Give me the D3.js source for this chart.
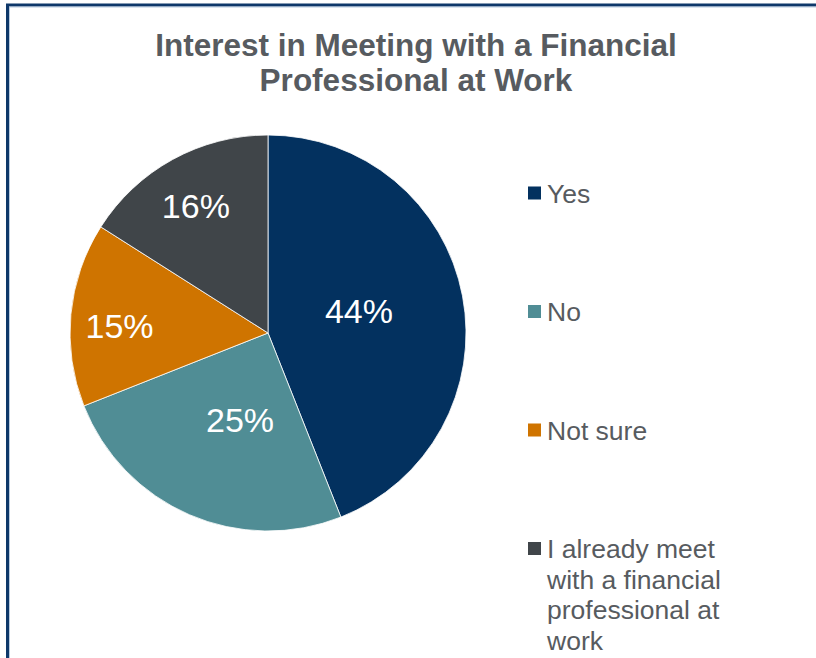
<!DOCTYPE html>
<html>
<head>
<meta charset="utf-8">
<script src="https://cdn.jsdelivr.net/npm/d3@7/dist/d3.min.js"></script>
<style>
  html, body { margin: 0; padding: 0; background: #fff; }
  svg { display: block; }
</style>
</head>
<body>
<svg id="chart" width="816" height="658"></svg>
<script>
// Survey answers, in clockwise order starting at 12 o'clock
const categories = ["Yes", "No", "Not sure", "I already meet with a financial professional at work"];
const values = [44, 25, 15, 16];
const colors = ["#03315f", "#508d95", "#cf7400", "#404549"];
const legendLines = [["Yes"], ["No"], ["Not sure"], ["I already meet", "with a financial", "professional at", "work"]];
const titleLines = ["Interest in Meeting with a Financial", "Professional at Work"];

const svg = d3.select("#chart");
const W = 816, H = 658;

// Frame around the chart area (runs past the right and bottom edges)
svg.append("rect")
  .attr("x", 7.5).attr("y", 5).attr("width", W + 20).attr("height", H + 20)
  .attr("fill", "#fff").attr("stroke", "#0e386a").attr("stroke-width", 3);
svg.append("rect")
  .attr("x", 9.5).attr("y", 7).attr("width", W + 20).attr("height", H + 20)
  .attr("fill", "none").attr("stroke", "#a9bfd8").attr("stroke-width", 0.8);

// Title
const title = svg.append("text")
  .attr("text-anchor", "middle")
  .attr("font-family", "Liberation Sans, Arial, sans-serif")
  .attr("font-weight", "bold")
  .attr("font-size", 31.5)
  .attr("fill", "#575b60");
titleLines.forEach((t, i) => {
  title.append("tspan").attr("x", 416).attr("y", 56 + i * 35).text(t);
});

// Pie
const cx = 268, cy = 333, R = 198;
const g = svg.append("g").attr("transform", `translate(${cx},${cy})`);
const pie = d3.pie().sort(null).value(d => d)(values);
const arc = d3.arc().innerRadius(0).outerRadius(R);

g.selectAll("path.slice")
  .data(pie)
  .join("path")
  .attr("class", "slice")
  .attr("d", arc)
  .attr("fill", (d, i) => colors[i])
  .attr("stroke", "#ffffff")
  .attr("stroke-width", 0.8);

// Data labels: best-fit placement, radius as a fraction of R and small angular nudge
const labelRadius = [0.474, 0.455, 0.751, 0.742];
const labelNudgeDeg = [-3.4, -5.3, -2.3, -0.6];
g.selectAll("text.pct")
  .data(pie)
  .join("text")
  .attr("class", "pct")
  .attr("text-anchor", "middle")
  .attr("dominant-baseline", "central")
  .attr("font-family", "Liberation Sans, Arial, sans-serif")
  .attr("font-size", 34)
  .attr("fill", "#ffffff")
  .attr("transform", (d, i) => {
    const a = (d.startAngle + d.endAngle) / 2 + labelNudgeDeg[i] * Math.PI / 180;
    const r = R * labelRadius[i];
    return `translate(${r * Math.sin(a)},${-r * Math.cos(a) + 1})`;
  })
  .text(d => d3.format(".0%")(d.value / d3.sum(values)));

// Legend
const legend = svg.append("g").attr("transform", "translate(528,0)");
const rowTop = 193, rowStep = 118.5, lineStep = 30.5;
legendLines.forEach((lines, i) => {
  const yc = rowTop + i * rowStep;
  legend.append("rect")
    .attr("x", 0).attr("y", yc - 6.5).attr("width", 13).attr("height", 13)
    .attr("fill", colors[i]);
  const t = legend.append("text")
    .attr("font-family", "Liberation Sans, Arial, sans-serif")
    .attr("font-size", 26.5)
    .attr("fill", "#575b60");
  lines.forEach((ln, j) => {
    t.append("tspan").attr("x", 19).attr("y", yc + 9.5 + j * lineStep).text(ln);
  });
});
</script>
</body>
</html>
